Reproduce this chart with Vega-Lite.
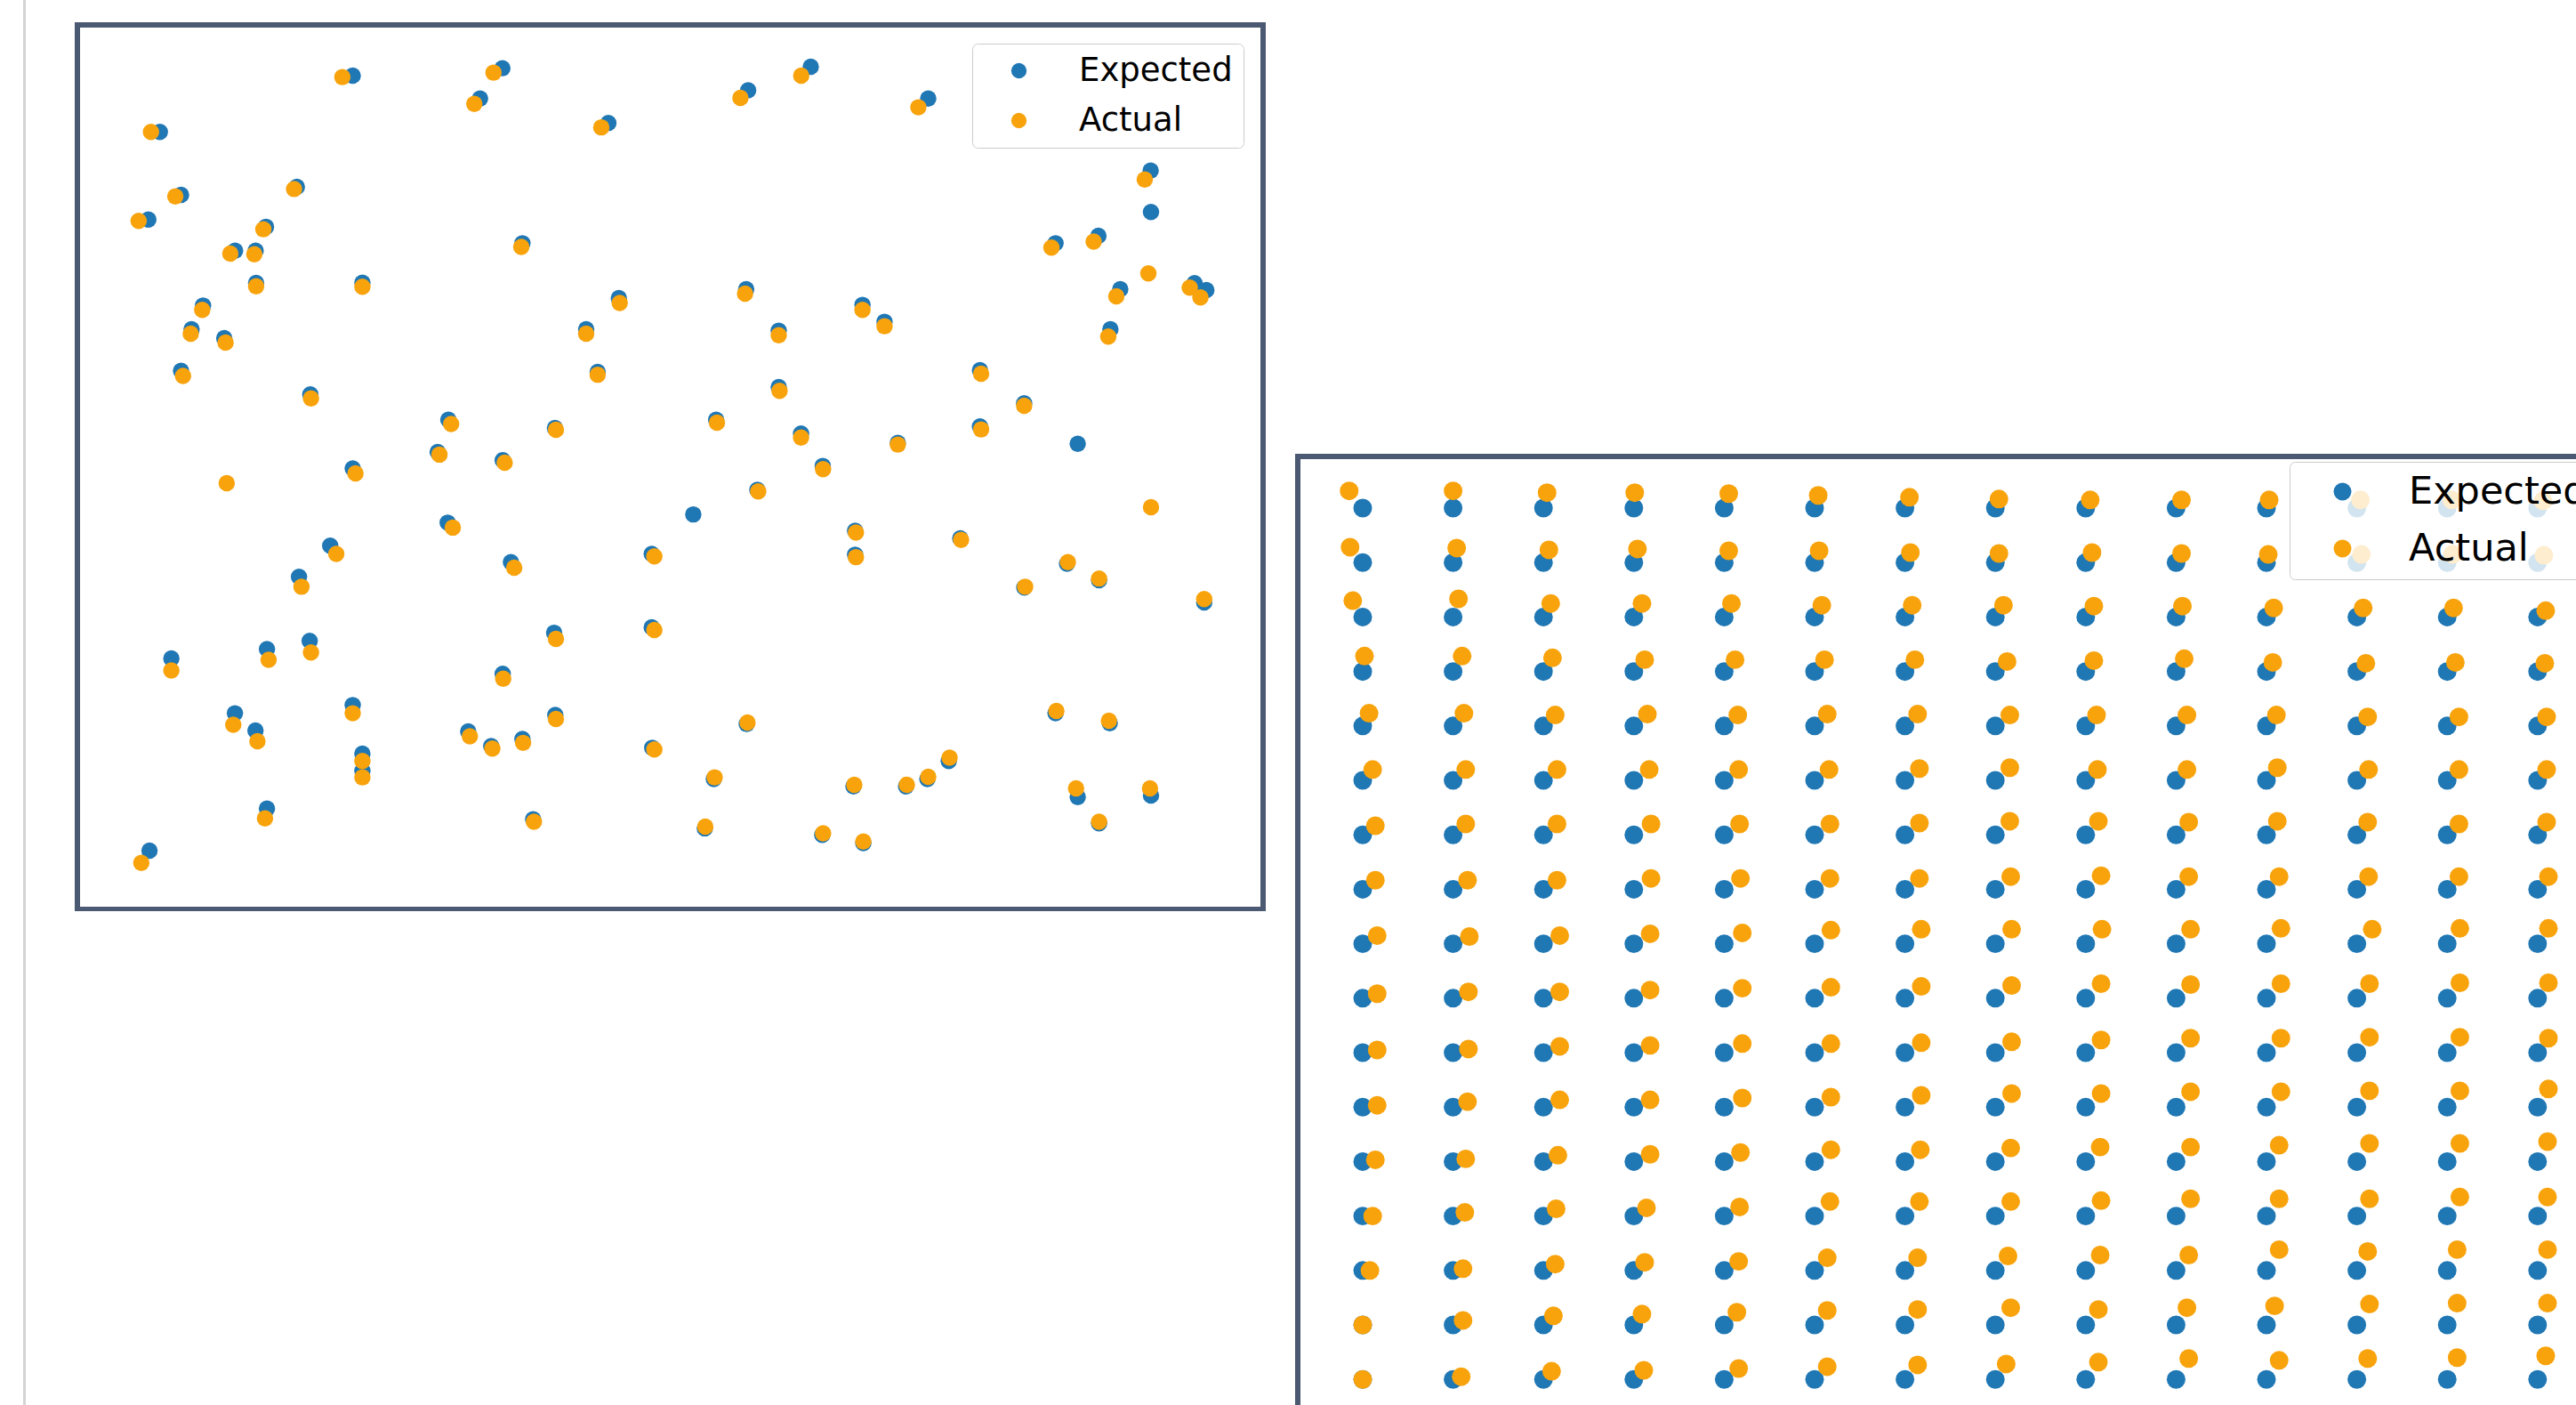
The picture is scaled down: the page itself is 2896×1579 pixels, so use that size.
{
  "$schema": "https://vega.github.io/schema/vega-lite/v6.json",
  "width": 2896,
  "height": 1579,
  "autosize": {"type": "none"},
  "padding": 0,
  "background": "#ffffff",
  "config": {"view": {"stroke": null}},
  "datasets": {
    "scatter": [
      {"ex":50.3,"ey":472.7,"ax":44.9,"ay":472.7},
      {"ex":167.7,"ey":507,"ax":161.4,"ay":506.1},
      {"ex":258.8,"ey":511.5,"ax":253.4,"ay":508.8},
      {"ex":245.2,"ey":493,"ax":241.7,"ay":489.8},
      {"ex":323.3,"ey":478.2,"ax":319,"ay":475.5},
      {"ex":408.4,"ey":498,"ax":403.7,"ay":493.4},
      {"ex":446.5,"ey":512.4,"ax":440.7,"ay":507},
      {"ex":518,"ey":493,"ax":512,"ay":487.7},
      {"ex":63.2,"ey":434.4,"ax":59.7,"ay":433.5},
      {"ex":43.3,"ey":419.4,"ax":37.4,"ay":418.6},
      {"ex":133.7,"ey":439.3,"ax":132,"ay":438},
      {"ex":114.9,"ey":415,"ax":113.3,"ay":413.5},
      {"ex":96.1,"ey":400.5,"ax":93.2,"ay":398.7},
      {"ex":108.6,"ey":400.5,"ax":107.8,"ay":398.3},
      {"ex":108.9,"ey":380.8,"ax":108.9,"ay":378.8},
      {"ex":173.6,"ey":381,"ax":173.6,"ay":378.5},
      {"ex":271,"ey":405,"ax":270.3,"ay":402.8},
      {"ex":76.6,"ey":367.1,"ax":76.1,"ay":364.4},
      {"ex":69.6,"ey":352.7,"ax":69.1,"ay":350},
      {"ex":89.5,"ey":347.3,"ax":90.3,"ay":344.6},
      {"ex":63.2,"ey":327.4,"ax":64.4,"ay":324.2},
      {"ex":141.9,"ey":313,"ax":142.3,"ay":310.6},
      {"ex":329.7,"ey":371.6,"ax":330.2,"ay":368.6},
      {"ex":309.8,"ey":352.7,"ax":309.8,"ay":350},
      {"ex":316.8,"ey":326.7,"ax":316.8,"ay":325},
      {"ex":407.2,"ey":377,"ax":406.5,"ay":374.3},
      {"ex":427,"ey":351.8,"ax":427,"ay":349},
      {"ex":427,"ey":317.5,"ax":427.5,"ay":315.2},
      {"ex":478,"ey":367.5,"ax":478,"ay":364.4},
      {"ex":491.4,"ey":357.2,"ax":491.4,"ay":354.5},
      {"ex":653.4,"ey":449.2,"ax":649.8,"ay":443.8},
      {"ex":653.6,"ey":424,"ax":null,"ay":null},
      {"ex":null,"ey":null,"ax":652,"ay":386.6},
      {"ex":595.5,"ey":405,"ax":593,"ay":402.3},
      {"ex":621.6,"ey":409.5,"ax":618.7,"ay":406},
      {"ex":634.9,"ey":377,"ax":632.5,"ay":372.7},
      {"ex":628.9,"ey":352.7,"ax":627.6,"ay":348.2},
      {"ex":680.1,"ey":380.7,"ax":677.2,"ay":378},
      {"ex":687.3,"ey":376.5,"ax":683.7,"ay":372},
      {"ex":549.5,"ey":327.8,"ax":550.2,"ay":325.6},
      {"ex":549.5,"ey":293.5,"ax":550.2,"ay":291.7},
      {"ex":576.4,"ey":307.6,"ax":576.4,"ay":306.1},
      {"ex":609,"ey":283,"ax":null,"ay":null},
      {"ex":null,"ey":null,"ax":653.6,"ay":244.4},
      {"ex":686,"ey":186.5,"ax":686,"ay":188.5},
      {"ex":null,"ey":null,"ax":91,"ay":259},
      {"ex":167.7,"ey":268,"ax":169.4,"ay":265},
      {"ex":225.9,"ey":297.6,"ax":227.6,"ay":295},
      {"ex":219.4,"ey":278,"ax":220.5,"ay":276.4},
      {"ex":259,"ey":273,"ax":260.2,"ay":271.5},
      {"ex":290.8,"ey":292.6,"ax":291.4,"ay":291.5},
      {"ex":388.9,"ey":297.6,"ax":389.4,"ay":295.8},
      {"ex":440.6,"ey":289.2,"ax":440.6,"ay":286.8},
      {"ex":453.8,"ey":269.5,"ax":454,"ay":267.5},
      {"ex":414,"ey":255,"ax":414.5,"ay":254},
      {"ex":499.5,"ey":283.5,"ax":499.5,"ay":282.5},
      {"ex":473.5,"ey":230,"ax":474,"ay":229},
      {"ex":473.5,"ey":215.5,"ax":474,"ay":214},
      {"ex":537.5,"ey":225.5,"ax":538,"ay":224.5},
      {"ex":154,"ey":221,"ax":157.7,"ay":216},
      {"ex":135,"ey":202,"ax":136.5,"ay":196},
      {"ex":225.5,"ey":235,"ax":228.6,"ay":232},
      {"ex":264,"ey":211,"ax":266,"ay":207.6},
      {"ex":349.7,"ey":216,"ax":351.3,"ay":214.5},
      {"ex":602.5,"ey":210,"ax":603,"ay":211},
      {"ex":622,"ey":200,"ax":622,"ay":201},
      {"ex":576.5,"ey":195.5,"ax":577,"ay":196},
      {"ex":57.3,"ey":152.4,"ax":57.3,"ay":145},
      {"ex":115.5,"ey":158,"ax":116.5,"ay":151.5},
      {"ex":141.5,"ey":163,"ax":142.3,"ay":156},
      {"ex":96,"ey":119,"ax":95,"ay":112},
      {"ex":108.5,"ey":108.5,"ax":109.7,"ay":102},
      {"ex":167.7,"ey":124,"ax":167.7,"ay":119},
      {"ex":173.6,"ey":94.4,"ax":173.6,"ay":90},
      {"ex":173.6,"ey":84,"ax":173.6,"ay":80},
      {"ex":115.5,"ey":61,"ax":114.3,"ay":55},
      {"ex":44,"ey":35.4,"ax":39,"ay":28},
      {"ex":349.7,"ey":171.3,"ax":351.3,"ay":169.7},
      {"ex":290.3,"ey":168,"ax":291.4,"ay":164.3},
      {"ex":259,"ey":143,"ax":259.3,"ay":140},
      {"ex":291,"ey":118,"ax":291.4,"ay":115.5},
      {"ex":238,"ey":108,"ax":239,"ay":105},
      {"ex":252,"ey":99,"ax":252.7,"ay":97.5},
      {"ex":271,"ey":103.4,"ax":271.4,"ay":101},
      {"ex":350,"ey":98,"ax":351.3,"ay":97},
      {"ex":277.5,"ey":54.5,"ax":278,"ay":53},
      {"ex":375,"ey":240,"ax":null,"ay":null},
      {"ex":407.5,"ey":112.5,"ax":408,"ay":113.4},
      {"ex":387.5,"ey":79,"ax":388,"ay":80},
      {"ex":382,"ey":49,"ax":382.3,"ay":50},
      {"ex":453.5,"ey":45,"ax":454,"ay":46},
      {"ex":478.5,"ey":40,"ax":478.5,"ay":41},
      {"ex":472.5,"ey":74.5,"ax":473,"ay":75.5},
      {"ex":504.5,"ey":74.5,"ax":505,"ay":75.5},
      {"ex":517.5,"ey":79,"ax":518,"ay":80.3},
      {"ex":530.5,"ey":90,"ax":531,"ay":92},
      {"ex":595.5,"ey":119,"ax":596,"ay":120.4},
      {"ex":628.5,"ey":113,"ax":628,"ay":114.5},
      {"ex":609,"ey":68,"ax":608,"ay":73.3},
      {"ex":653.6,"ey":69,"ax":653,"ay":73.3},
      {"ex":622,"ey":52,"ax":622,"ay":53}
    ],
    "grid": [
      {"ex":0,"ey":960,"ax":-15,"ay":979},{"ex":100,"ey":960,"ax":100,"ay":979},{"ex":200,"ey":960,"ax":204,"ay":977},{"ex":300,"ey":960,"ax":301,"ay":977},{"ex":400,"ey":960,"ax":405,"ay":976},{"ex":500,"ey":960,"ax":504,"ay":974},{"ex":600,"ey":960,"ax":605,"ay":972},{"ex":700,"ey":960,"ax":704,"ay":970},{"ex":800,"ey":960,"ax":805,"ay":969},{"ex":900,"ey":960,"ax":906,"ay":969},{"ex":1000,"ey":960,"ax":1003,"ay":969},{"ex":1100,"ey":960,"ax":1104,"ay":969},{"ex":1200,"ey":960,"ax":1205,"ay":969},{"ex":1300,"ey":960,"ax":1306,"ay":968},
      {"ex":0,"ey":900,"ax":-14,"ay":917},{"ex":100,"ey":900,"ax":104,"ay":916},{"ex":200,"ey":900,"ax":206,"ay":914},{"ex":300,"ey":900,"ax":304,"ay":915},{"ex":400,"ey":900,"ax":405,"ay":913},{"ex":500,"ey":900,"ax":505,"ay":913},{"ex":600,"ey":900,"ax":606,"ay":911},{"ex":700,"ey":900,"ax":704,"ay":910},{"ex":800,"ey":900,"ax":807,"ay":911},{"ex":900,"ey":900,"ax":906,"ay":910},{"ex":1000,"ey":900,"ax":1002,"ay":909},{"ex":1100,"ey":900,"ax":1105,"ay":909},{"ex":1200,"ey":900,"ax":1206,"ay":909},{"ex":1300,"ey":900,"ax":1307,"ay":908},
      {"ex":0,"ey":840,"ax":-11,"ay":858},{"ex":100,"ey":840,"ax":106,"ay":860},{"ex":200,"ey":840,"ax":208,"ay":855},{"ex":300,"ey":840,"ax":309,"ay":855},{"ex":400,"ey":840,"ax":408,"ay":855},{"ex":500,"ey":840,"ax":508,"ay":853},{"ex":600,"ey":840,"ax":608,"ay":853},{"ex":700,"ey":840,"ax":709,"ay":853},{"ex":800,"ey":840,"ax":809,"ay":852},{"ex":900,"ey":840,"ax":907,"ay":852},{"ex":1000,"ey":840,"ax":1008,"ay":850},{"ex":1100,"ey":840,"ax":1107,"ay":850},{"ex":1200,"ey":840,"ax":1207,"ay":850},{"ex":1300,"ey":840,"ax":1309,"ay":847},
      {"ex":0,"ey":780,"ax":2,"ay":797},{"ex":100,"ey":780,"ax":110,"ay":797},{"ex":200,"ey":780,"ax":210,"ay":795},{"ex":300,"ey":780,"ax":312,"ay":793},{"ex":400,"ey":780,"ax":412,"ay":793},{"ex":500,"ey":780,"ax":511,"ay":793},{"ex":600,"ey":780,"ax":611,"ay":793},{"ex":700,"ey":780,"ax":713,"ay":791},{"ex":800,"ey":780,"ax":809,"ay":792},{"ex":900,"ey":780,"ax":909,"ay":794},{"ex":1000,"ey":780,"ax":1007,"ay":790},{"ex":1100,"ey":780,"ax":1110,"ay":789},{"ex":1200,"ey":780,"ax":1209,"ay":790},{"ex":1300,"ey":780,"ax":1308,"ay":789},
      {"ex":0,"ey":720,"ax":7,"ay":734},{"ex":100,"ey":720,"ax":112,"ay":734},{"ex":200,"ey":720,"ax":213,"ay":732},{"ex":300,"ey":720,"ax":315,"ay":733},{"ex":400,"ey":720,"ax":415,"ay":732},{"ex":500,"ey":720,"ax":514,"ay":733},{"ex":600,"ey":720,"ax":614,"ay":733},{"ex":700,"ey":720,"ax":716,"ay":732},{"ex":800,"ey":720,"ax":812,"ay":732},{"ex":900,"ey":720,"ax":912,"ay":732},{"ex":1000,"ey":720,"ax":1011,"ay":732},{"ex":1100,"ey":720,"ax":1112,"ay":730},{"ex":1200,"ey":720,"ax":1213,"ay":730},{"ex":1300,"ey":720,"ax":1310,"ay":730},
      {"ex":0,"ey":660,"ax":11,"ay":672},{"ex":100,"ey":660,"ax":114,"ay":672},{"ex":200,"ey":660,"ax":215,"ay":672},{"ex":300,"ey":660,"ax":317,"ay":672},{"ex":400,"ey":660,"ax":416,"ay":672},{"ex":500,"ey":660,"ax":516,"ay":672},{"ex":600,"ey":660,"ax":616,"ay":673},{"ex":700,"ey":660,"ax":716,"ay":674},{"ex":800,"ey":660,"ax":813,"ay":672},{"ex":900,"ey":660,"ax":912,"ay":672},{"ex":1000,"ey":660,"ax":1012,"ay":674},{"ex":1100,"ey":660,"ax":1113,"ay":672},{"ex":1200,"ey":660,"ax":1213,"ay":672},{"ex":1300,"ey":660,"ax":1310,"ay":672},
      {"ex":0,"ey":600,"ax":14,"ay":610},{"ex":100,"ey":600,"ax":114,"ay":612},{"ex":200,"ey":600,"ax":215,"ay":612},{"ex":300,"ey":600,"ax":319,"ay":612},{"ex":400,"ey":600,"ax":417,"ay":612},{"ex":500,"ey":600,"ax":517,"ay":612},{"ex":600,"ey":600,"ax":616,"ay":613},{"ex":700,"ey":600,"ax":716,"ay":615},{"ex":800,"ey":600,"ax":814,"ay":615},{"ex":900,"ey":600,"ax":914,"ay":614},{"ex":1000,"ey":600,"ax":1012,"ay":615},{"ex":1100,"ey":600,"ax":1112,"ay":614},{"ex":1200,"ey":600,"ax":1213,"ay":612},{"ex":1300,"ey":600,"ax":1310,"ay":614},
      {"ex":0,"ey":540,"ax":14,"ay":550},{"ex":100,"ey":540,"ax":116,"ay":550},{"ex":200,"ey":540,"ax":215,"ay":550},{"ex":300,"ey":540,"ax":319,"ay":552},{"ex":400,"ey":540,"ax":418,"ay":552},{"ex":500,"ey":540,"ax":517,"ay":552},{"ex":600,"ey":540,"ax":616,"ay":552},{"ex":700,"ey":540,"ax":717,"ay":554},{"ex":800,"ey":540,"ax":817,"ay":555},{"ex":900,"ey":540,"ax":914,"ay":554},{"ex":1000,"ey":540,"ax":1014,"ay":554},{"ex":1100,"ey":540,"ax":1113,"ay":554},{"ex":1200,"ey":540,"ax":1213,"ay":554},{"ex":1300,"ey":540,"ax":1312,"ay":554},
      {"ex":0,"ey":480,"ax":16,"ay":489},{"ex":100,"ey":480,"ax":118,"ay":488},{"ex":200,"ey":480,"ax":218,"ay":489},{"ex":300,"ey":480,"ax":318,"ay":491},{"ex":400,"ey":480,"ax":420,"ay":492},{"ex":500,"ey":480,"ax":518,"ay":495},{"ex":600,"ey":480,"ax":618,"ay":496},{"ex":700,"ey":480,"ax":718,"ay":496},{"ex":800,"ey":480,"ax":818,"ay":496},{"ex":900,"ey":480,"ax":916,"ay":496},{"ex":1000,"ey":480,"ax":1016,"ay":497},{"ex":1100,"ey":480,"ax":1117,"ay":496},{"ex":1200,"ey":480,"ax":1214,"ay":497},{"ex":1300,"ey":480,"ax":1312,"ay":497},
      {"ex":0,"ey":420,"ax":16,"ay":425},{"ex":100,"ey":420,"ax":117,"ay":427},{"ex":200,"ey":420,"ax":218,"ay":427},{"ex":300,"ey":420,"ax":318,"ay":429},{"ex":400,"ey":420,"ax":420,"ay":431},{"ex":500,"ey":420,"ax":518,"ay":432},{"ex":600,"ey":420,"ax":618,"ay":433},{"ex":700,"ey":420,"ax":718,"ay":434},{"ex":800,"ey":420,"ax":817,"ay":436},{"ex":900,"ey":420,"ax":916,"ay":435},{"ex":1000,"ey":420,"ax":1016,"ay":436},{"ex":1100,"ey":420,"ax":1114,"ay":436},{"ex":1200,"ey":420,"ax":1214,"ay":437},{"ex":1300,"ey":420,"ax":1312,"ay":437},
      {"ex":0,"ey":360,"ax":16,"ay":363},{"ex":100,"ey":360,"ax":117,"ay":364},{"ex":200,"ey":360,"ax":218,"ay":367},{"ex":300,"ey":360,"ax":318,"ay":368},{"ex":400,"ey":360,"ax":420,"ay":370},{"ex":500,"ey":360,"ax":518,"ay":370},{"ex":600,"ey":360,"ax":618,"ay":371},{"ex":700,"ey":360,"ax":718,"ay":372},{"ex":800,"ey":360,"ax":817,"ay":374},{"ex":900,"ey":360,"ax":916,"ay":376},{"ex":1000,"ey":360,"ax":1016,"ay":376},{"ex":1100,"ey":360,"ax":1114,"ay":377},{"ex":1200,"ey":360,"ax":1214,"ay":377},{"ex":1300,"ey":360,"ax":1312,"ay":376},
      {"ex":0,"ey":300,"ax":16,"ay":302},{"ex":100,"ey":300,"ax":116,"ay":306},{"ex":200,"ey":300,"ax":218,"ay":308},{"ex":300,"ey":300,"ax":318,"ay":308},{"ex":400,"ey":300,"ax":420,"ay":310},{"ex":500,"ey":300,"ax":518,"ay":311},{"ex":600,"ey":300,"ax":618,"ay":313},{"ex":700,"ey":300,"ax":718,"ay":315},{"ex":800,"ey":300,"ax":817,"ay":315},{"ex":900,"ey":300,"ax":916,"ay":317},{"ex":1000,"ey":300,"ax":1016,"ay":317},{"ex":1100,"ey":300,"ax":1114,"ay":318},{"ex":1200,"ey":300,"ax":1214,"ay":318},{"ex":1300,"ey":300,"ax":1312,"ay":320},
      {"ex":0,"ey":240,"ax":14,"ay":242},{"ex":100,"ey":240,"ax":114,"ay":243},{"ex":200,"ey":240,"ax":216,"ay":247},{"ex":300,"ey":240,"ax":318,"ay":248},{"ex":400,"ey":240,"ax":418,"ay":250},{"ex":500,"ey":240,"ax":518,"ay":253},{"ex":600,"ey":240,"ax":617,"ay":253},{"ex":700,"ey":240,"ax":717,"ay":255},{"ex":800,"ey":240,"ax":816,"ay":256},{"ex":900,"ey":240,"ax":916,"ay":256},{"ex":1000,"ey":240,"ax":1014,"ay":258},{"ex":1100,"ey":240,"ax":1114,"ay":260},{"ex":1200,"ey":240,"ax":1214,"ay":260},{"ex":1300,"ey":240,"ax":1311,"ay":262},
      {"ex":0,"ey":180,"ax":11,"ay":180},{"ex":100,"ey":180,"ax":113,"ay":184},{"ex":200,"ey":180,"ax":214,"ay":188},{"ex":300,"ey":180,"ax":314,"ay":189},{"ex":400,"ey":180,"ax":417,"ay":190},{"ex":500,"ey":180,"ax":517,"ay":196},{"ex":600,"ey":180,"ax":616,"ay":196},{"ex":700,"ey":180,"ax":717,"ay":196},{"ex":800,"ey":180,"ax":817,"ay":197},{"ex":900,"ey":180,"ax":916,"ay":199},{"ex":1000,"ey":180,"ax":1014,"ay":199},{"ex":1100,"ey":180,"ax":1114,"ay":199},{"ex":1200,"ey":180,"ax":1214,"ay":201},{"ex":1300,"ey":180,"ax":1311,"ay":201},
      {"ex":0,"ey":120,"ax":8,"ay":120},{"ex":100,"ey":120,"ax":111,"ay":122},{"ex":200,"ey":120,"ax":213,"ay":127},{"ex":300,"ey":120,"ax":312,"ay":129},{"ex":400,"ey":120,"ax":416,"ay":130},{"ex":500,"ey":120,"ax":514,"ay":134},{"ex":600,"ey":120,"ax":614,"ay":134},{"ex":700,"ey":120,"ax":714,"ay":136},{"ex":800,"ey":120,"ax":816,"ay":137},{"ex":900,"ey":120,"ax":914,"ay":137},{"ex":1000,"ey":120,"ax":1014,"ay":143},{"ex":1100,"ey":120,"ax":1112,"ay":141},{"ex":1200,"ey":120,"ax":1211,"ay":143},{"ex":1300,"ey":120,"ax":1311,"ay":143},
      {"ex":0,"ey":60,"ax":0,"ay":60},{"ex":100,"ey":60,"ax":111,"ay":65},{"ex":200,"ey":60,"ax":211,"ay":70},{"ex":300,"ey":60,"ax":309,"ay":72},{"ex":400,"ey":60,"ax":414,"ay":74},{"ex":500,"ey":60,"ax":514,"ay":76},{"ex":600,"ey":60,"ax":614,"ay":77},{"ex":700,"ey":60,"ax":717,"ay":79},{"ex":800,"ey":60,"ax":814,"ay":77},{"ex":900,"ey":60,"ax":912,"ay":79},{"ex":1000,"ey":60,"ax":1009,"ay":81},{"ex":1100,"ey":60,"ax":1114,"ay":83},{"ex":1200,"ey":60,"ax":1211,"ay":84},{"ex":1300,"ey":60,"ax":1311,"ay":84},
      {"ex":0,"ey":0,"ax":0,"ay":0},{"ex":100,"ey":0,"ax":109,"ay":3},{"ex":200,"ey":0,"ax":209,"ay":9},{"ex":300,"ey":0,"ax":311,"ay":10},{"ex":400,"ey":0,"ax":416,"ay":12},{"ex":500,"ey":0,"ax":514,"ay":14},{"ex":600,"ey":0,"ax":614,"ay":16},{"ex":700,"ey":0,"ax":712,"ay":17},{"ex":800,"ey":0,"ax":814,"ay":19},{"ex":900,"ey":0,"ax":914,"ay":23},{"ex":1000,"ey":0,"ax":1014,"ay":21},{"ex":1100,"ey":0,"ax":1112,"ay":23},{"ex":1200,"ey":0,"ax":1211,"ay":24},{"ex":1300,"ey":0,"ax":1309,"ay":26}
    ]
  },
  "layer": [
    {
      "data": {"name": "scatter"},
      "layer": [
        {
          "mark": {"type": "rule", "color": "#d4d4d4", "strokeWidth": 2.5},
          "encoding": {
            "x": {"datum": -32.1, "type": "quantitative", "axis": null, "scale": {"domain": [0, 722], "range": [86.8, 1420.3]}}
          }
        },
        {
          "mark": {"type": "rect", "filled": false, "stroke": "#4b5972", "strokeWidth": 5},
          "encoding": {
            "x": {"datum": 0, "type": "quantitative", "axis": null, "scale": {"domain": [0, 722], "range": [86.8, 1420.3]}},
            "x2": {"datum": 722},
            "y": {"datum": 0, "type": "quantitative", "axis": null, "scale": {"domain": [0, 538], "range": [1021.4, 27.7]}},
            "y2": {"datum": 538}
          }
        },
        {
          "transform": [{"filter": "isValid(datum.ex)"}],
          "mark": {"type": "point", "filled": true, "size": 340, "opacity": 1, "strokeWidth": 0},
          "encoding": {
            "x": {"field": "ex", "type": "quantitative", "axis": null, "scale": {"domain": [0, 722], "range": [86.8, 1420.3]}},
            "y": {"field": "ey", "type": "quantitative", "axis": null, "scale": {"domain": [0, 538], "range": [1021.4, 27.7]}},
            "color": {"datum": "Expected", "type": "nominal",
              "scale": {"domain": ["Expected", "Actual"], "range": ["#1f77b4", "#f8a30c"]},
              "legend": {"orient": "none", "legendX": 1093, "legendY": 49, "title": null, "direction": "vertical",
                "fillColor": "rgba(255,255,255,0.8)", "strokeColor": "#cccccc", "cornerRadius": 6,
                "padding": 12, "symbolType": "circle", "symbolSize": 300, "symbolStrokeWidth": 0, "symbolOffset": 22,
                "labelOffset": 49, "labelFontSize": 37, "labelFont": "DejaVu Sans", "labelColor": "#000000",
                "labelLimit": 600, "rowPadding": 18,
                "encode": {"legend": {"update": {"strokeWidth": {"value": 2}}}}}}
          }
        },
        {
          "transform": [{"filter": "isValid(datum.ax)"}],
          "mark": {"type": "point", "filled": true, "size": 340, "opacity": 1, "strokeWidth": 0},
          "encoding": {
            "x": {"field": "ax", "type": "quantitative", "axis": null, "scale": {"domain": [0, 722], "range": [86.8, 1420.3]}},
            "y": {"field": "ay", "type": "quantitative", "axis": null, "scale": {"domain": [0, 538], "range": [1021.4, 27.7]}},
            "color": {"datum": "Actual", "type": "nominal"}
          }
        }
      ]
    },
    {
      "data": {"name": "grid"},
      "layer": [
        {
          "mark": {"type": "rect", "filled": false, "stroke": "#4b5972", "strokeWidth": 5, "clip": true},
          "encoding": {
            "x": {"datum": -71.85, "type": "quantitative", "axis": null, "scale": {"domain": [-71.85, 1342.5], "range": [1459, 2896]}},
            "x2": {"datum": 2000},
            "y": {"datum": -500, "type": "quantitative", "axis": null, "scale": {"domain": [-28.2, 1016.9], "range": [1579, 513]}},
            "y2": {"datum": 1016.9}
          }
        },
        {
          "mark": {"type": "point", "filled": true, "size": 440, "opacity": 1, "strokeWidth": 0, "clip": true},
          "encoding": {
            "x": {"field": "ex", "type": "quantitative", "axis": null, "scale": {"domain": [-71.85, 1342.5], "range": [1459, 2896]}},
            "y": {"field": "ey", "type": "quantitative", "axis": null, "scale": {"domain": [-28.2, 1016.9], "range": [1579, 513]}},
            "color": {"datum": "Expected", "type": "nominal",
              "scale": {"domain": ["Expected", "Actual"], "range": ["#1f77b4", "#f8a30c"]},
              "legend": {"orient": "none", "legendX": 2574, "legendY": 519, "title": null, "direction": "vertical",
                "fillColor": "rgba(255,255,255,0.8)", "strokeColor": "#cccccc", "cornerRadius": 6,
                "padding": 12, "symbolType": "circle", "symbolSize": 400, "symbolStrokeWidth": 0, "symbolOffset": 26,
                "labelOffset": 53, "labelFontSize": 43, "labelFont": "DejaVu Sans", "labelColor": "#000000",
                "labelLimit": 600, "rowPadding": 20,
                "encode": {"legend": {"update": {"strokeWidth": {"value": 2}}}}}}
          }
        },
        {
          "mark": {"type": "point", "filled": true, "size": 440, "opacity": 1, "strokeWidth": 0, "clip": true},
          "encoding": {
            "x": {"field": "ax", "type": "quantitative", "axis": null, "scale": {"domain": [-71.85, 1342.5], "range": [1459, 2896]}},
            "y": {"field": "ay", "type": "quantitative", "axis": null, "scale": {"domain": [-28.2, 1016.9], "range": [1579, 513]}},
            "color": {"datum": "Actual", "type": "nominal"}
          }
        }
      ]
    }
  ],
  "resolve": {"scale": {"x": "independent", "y": "independent", "color": "independent"}, "legend": {"color": "independent"}}
}
